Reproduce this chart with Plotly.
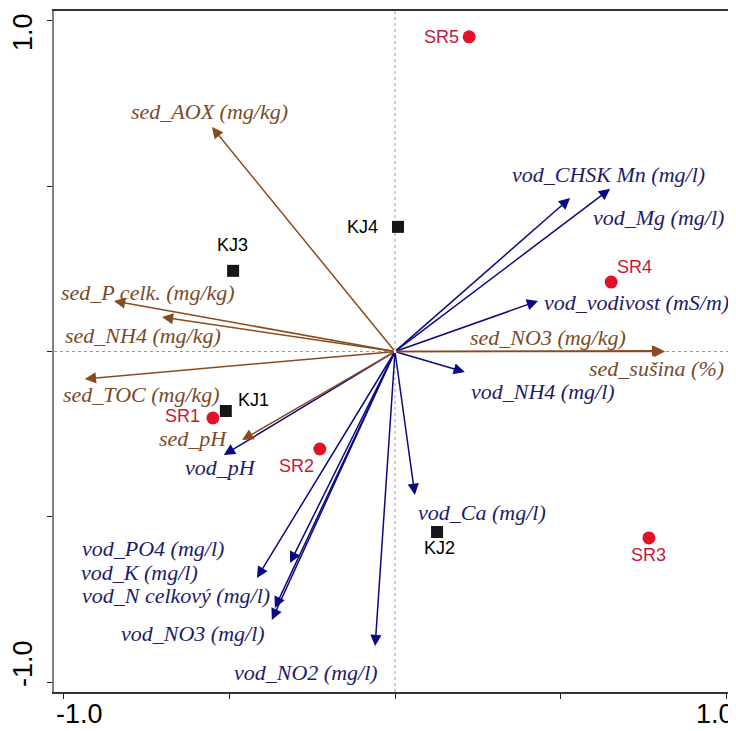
import plotly.graph_objects as go

# ---- data ----
sed_names = ["sed_AOX (mg/kg)", "sed_P celk. (mg/kg)", "sed_NH4 (mg/kg)", "sed_TOC (mg/kg)",
             "sed_pH", "sed_NO3 (mg/kg)", "sed_sušina (%)"]
sed_x = [-0.553, -0.849, -0.704, -0.937, -0.462, 0.810, 0.816]
sed_y = [0.679, 0.153, 0.104, -0.083, -0.268, 0.002, 0.0]

vod_names = ["vod_CHSK Mn (mg/l)", "vod_Mg (mg/l)", "vod_vodivost (mS/m)", "vod_NH4 (mg/l)",
             "vod_Ca (mg/l)", "vod_pH", "vod_PO4 (mg/l)", "vod_K (mg/l)",
             "vod_N celkový (mg/l)", "vod_NO3 (mg/l)", "vod_NO2 (mg/l)"]
vod_x = [0.529, 0.650, 0.432, 0.211, 0.060, -0.517, -0.417, -0.317, -0.363, -0.372, -0.060]
vod_y = [0.464, 0.492, 0.153, -0.062, -0.434, -0.313, -0.685, -0.640, -0.776, -0.812, -0.891]

sr_names = ["SR1", "SR2", "SR3", "SR4", "SR5"]
sr_x = [-0.550, -0.227, 0.767, 0.653, 0.224]
sr_y = [-0.201, -0.295, -0.564, 0.210, 0.952]

kj_names = ["KJ1", "KJ2", "KJ3", "KJ4"]
kj_x = [-0.511, 0.127, -0.489, 0.009]
kj_y = [-0.180, -0.546, 0.244, 0.377]

tick_vals = [-1.0, -0.5, 0.0, 0.5, 1.0]

# ---- label placement (layout) ----
sed_lab_pos = [(-0.559, 0.725), (-0.746, 0.180), (-0.761, 0.047), (-0.767, -0.131),
               (-0.610, -0.262), (0.462, 0.041), (0.789, -0.050)]
vod_lab_pos = [(0.645, 0.534), (0.796, 0.404), (0.728, 0.147), (0.447, -0.120),
               (0.263, -0.486), (-0.526, -0.352), (-0.731, -0.595), (-0.773, -0.667),
               (-0.662, -0.737), (-0.610, -0.852), (-0.269, -0.970)]
sr_shift = [(-30, 2), (-23, -17), (0, -17), (23, 15), (-28, 0)]
kj_shift = [(28, 11), (2, -16), (-1, 26), (-35, 0)]

BROWN = "#8B4A1E"
BROWN_T = "#7A4A28"
NAVY = "#0A0A80"
NAVY_T = "#1C1C6A"
RED = "#E3102A"
RED_T = "#C8183A"

fig = go.Figure()

# zero lines
fig.add_shape(type="line", x0=0, x1=0, y0=-1.03, y1=1.03, xref="x", yref="y",
              line=dict(color="#9a9a9a", width=1, dash="dot"), layer="below")
fig.add_shape(type="line", x0=-1.03, x1=1.03, y0=0, y1=0, xref="x", yref="y",
              line=dict(color="#9a9a9a", width=1, dash="dot"), layer="below")

annotations = []
label_font_serif = "Liberation Serif, Times New Roman, serif"

def add_arrows(names, xs, ys, lpos, col, tcol):
    for n, x, y, (lx, ly) in zip(names, xs, ys, lpos):
        annotations.append(dict(x=x, y=y, ax=0, ay=0, xref="x", yref="y", axref="x", ayref="y",
                                showarrow=True, arrowhead=2, arrowsize=1.5, arrowwidth=1.5,
                                arrowcolor=col, text=""))
        annotations.append(dict(x=lx, y=ly, xref="x", yref="y", showarrow=False, text=f"<i>{n}</i>",
                                font=dict(family=label_font_serif, size=22, color=tcol)))

add_arrows(vod_names, vod_x, vod_y, vod_lab_pos, NAVY, NAVY_T)
add_arrows(sed_names, sed_x, sed_y, sed_lab_pos, BROWN, BROWN_T)

fig.add_trace(go.Scatter(x=sr_x, y=sr_y, mode="markers",
                         marker=dict(symbol="circle", size=13, color=RED), hoverinfo="skip"))
fig.add_trace(go.Scatter(x=kj_x, y=kj_y, mode="markers",
                         marker=dict(symbol="square", size=12, color="#15151a"), hoverinfo="skip"))

for n, x, y, (dx, dy) in zip(sr_names, sr_x, sr_y, sr_shift):
    annotations.append(dict(x=x, y=y, xref="x", yref="y", showarrow=False, text=n,
                            xshift=dx, yshift=dy,
                            font=dict(family="Liberation Sans, Arial, sans-serif", size=18, color=RED_T)))
for n, x, y, (dx, dy) in zip(kj_names, kj_x, kj_y, kj_shift):
    annotations.append(dict(x=x, y=y, xref="x", yref="y", showarrow=False, text=n,
                            xshift=dx, yshift=dy,
                            font=dict(family="Liberation Sans, Arial, sans-serif", size=18, color="#000000")))

# axis end labels
tick_font = dict(family="Liberation Sans, Arial, sans-serif", size=27, color="#000000")
annotations.append(dict(x=tick_vals[0], y=0, xref="x", yref="paper", yanchor="top", yshift=-5,
                        xshift=16, showarrow=False, text="-1.0", font=tick_font))
annotations.append(dict(x=tick_vals[-1], y=0, xref="x", yref="paper", yanchor="top", yshift=-5,
                        xshift=-11, showarrow=False, text="1.0", font=tick_font))
annotations.append(dict(x=0, y=tick_vals[-1], xref="paper", yref="y", xanchor="right", xshift=-14,
                        yshift=-11, showarrow=False, text="1.0", textangle=-90, font=tick_font))
annotations.append(dict(x=0, y=tick_vals[0], xref="paper", yref="y", xanchor="right", xshift=-14,
                        yshift=18, showarrow=False, text="-1.0", textangle=-90, font=tick_font))

# page body has an 8px margin; figure is sized so the plot area lands where the reference has it
fig.update_layout(
    width=728, height=723,
    margin=dict(l=46, r=0, t=3, b=39),
    plot_bgcolor="white", paper_bgcolor="white",
    showlegend=False,
    annotations=annotations,
    xaxis=dict(range=[-1.03, 1.03], tickvals=tick_vals, showticklabels=False, ticks="outside",
               ticklen=5, tickcolor="#222", showgrid=False, zeroline=False,
               showline=True, linecolor="#333333", linewidth=2, mirror=True),
    yaxis=dict(range=[-1.03, 1.03], tickvals=tick_vals, showticklabels=False, ticks="outside",
               ticklen=5, tickcolor="#222", showgrid=False, zeroline=False,
               showline=True, linecolor="#808080", linewidth=2, mirror=False),
)

fig.write_html("out.html")
